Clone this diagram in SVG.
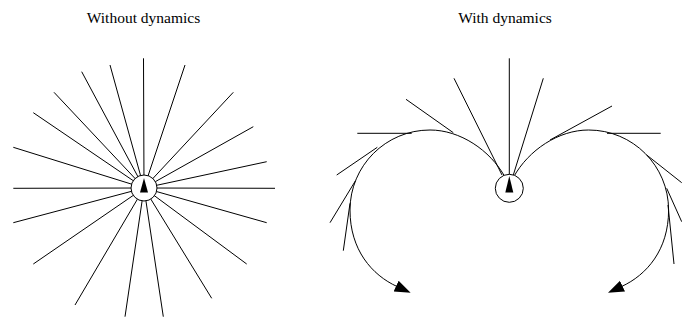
<svg xmlns="http://www.w3.org/2000/svg" width="682" height="320" viewBox="0 0 682 320">
<style>
.t{font-family:"Liberation Serif","Times New Roman",serif;font-size:15.5px;fill:#000}
.ln{stroke:#000;stroke-width:1;fill:none}
.veh{fill:#fff;stroke:#000;stroke-width:1}
.tri{fill:#000}
</style>
<defs>
<marker id="ah" markerUnits="userSpaceOnUse" markerWidth="18" markerHeight="14" viewBox="0 -7 18 14" refX="1" refY="0" orient="auto">
<path d="M0,-6 L16,0 L0,6 z" fill="#000"/>
</marker>
</defs>
<text class="t" x="143.5" y="22.5" text-anchor="middle">Without dynamics</text>
<text class="t" x="505" y="22.5" text-anchor="middle">With dynamics</text>
<g id="connectors">
<g id="rays-left" class="ln">
<line x1="144" y1="188" x2="143.5" y2="58.3"/>
<line x1="144" y1="188" x2="185" y2="65"/>
<line x1="144" y1="188" x2="233.3" y2="92.3"/>
<line x1="144" y1="188" x2="253.3" y2="126.7"/>
<line x1="144" y1="188" x2="266.7" y2="161.7"/>
<line x1="144" y1="188" x2="275" y2="188.3"/>
<line x1="144" y1="188" x2="266.7" y2="222.7"/>
<line x1="144" y1="188" x2="246.7" y2="264"/>
<line x1="144" y1="188" x2="211.7" y2="298.3"/>
<line x1="144" y1="188" x2="163.3" y2="316.7"/>
<line x1="144" y1="188" x2="125" y2="316.7"/>
<line x1="144" y1="188" x2="75" y2="305"/>
<line x1="144" y1="188" x2="33.3" y2="264"/>
<line x1="144" y1="188" x2="13.3" y2="222.7"/>
<line x1="144" y1="188" x2="13.3" y2="188.3"/>
<line x1="144" y1="188" x2="13.3" y2="147.3"/>
<line x1="144" y1="188" x2="33.3" y2="112.7"/>
<line x1="144" y1="188" x2="54" y2="92.3"/>
<line x1="144" y1="188" x2="81.7" y2="71.7"/>
<line x1="144" y1="188" x2="110" y2="65"/>
</g>
<g id="trajectories-right" class="ln">
<line x1="509.3" y1="58.3" x2="509.3" y2="175"/>
<line x1="454" y1="78.3" x2="502" y2="175"/>
<line x1="406" y1="99.3" x2="453.3" y2="132.7"/>
<line x1="357.3" y1="133.3" x2="411.7" y2="133.3"/>
<line x1="377.3" y1="147.3" x2="336.7" y2="175"/>
<line x1="355.3" y1="181" x2="330" y2="222.7"/>
<line x1="350" y1="203.3" x2="343.3" y2="250.7"/>
<line x1="543.3" y1="78.3" x2="513.3" y2="175"/>
<line x1="612" y1="106" x2="550" y2="140"/>
<line x1="607" y1="133.3" x2="660.7" y2="133.3"/>
<line x1="646.7" y1="155" x2="681.7" y2="182.7"/>
<line x1="666.7" y1="188.3" x2="681.7" y2="221.7"/>
<line x1="668" y1="205" x2="674" y2="264"/>
<path d="M505,177 C490,150 460,130 430,130 C385.8,130 350,165.8 350,210 C350,250 372,275 397,286.5" marker-end="url(#ah)"/>
<path d="M513.6,177 C528.6,150 558.6,130 588.6,130 C632.8,130 668.6,165.8 668.6,210 C668.6,250 646.6,275 621.6,286.5" marker-end="url(#ah)"/>
</g>
</g>
<g id="vehicle-left">
<circle class="veh" cx="144" cy="188" r="13"/>
<polygon class="tri" points="144,178 140,192.5 148,192.5"/>
</g>
<g id="vehicle-right">
<circle class="veh" cx="509.3" cy="188.3" r="14"/>
<polygon class="tri" points="509.3,176 505.3,192.5 513.3,192.5"/>
</g>
</svg>
